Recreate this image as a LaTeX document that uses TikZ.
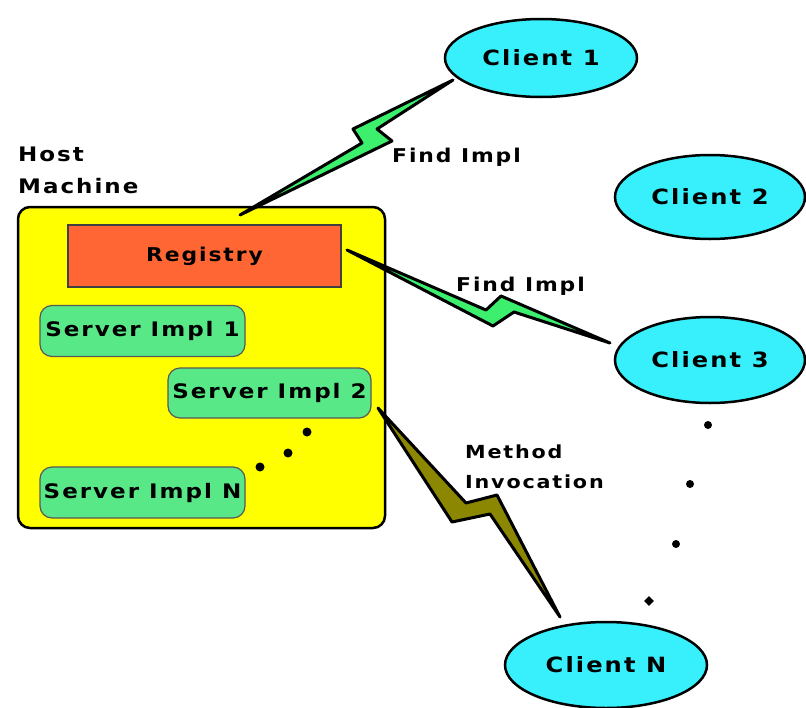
\documentclass[tikz,border=0pt]{standalone}
\usepackage{fontspec}
\setmainfont{DejaVu Sans}[FakeStretch=1.15, LetterSpace=10]
\usetikzlibrary{shapes.geometric}

\definecolor{hostyellow}{RGB}{255,255,0}
\definecolor{regorange}{RGB}{255,102,51}
\definecolor{implgreen}{RGB}{88,232,136}
\definecolor{clientcyan}{RGB}{56,240,252}
\definecolor{boltgreen}{RGB}{60,240,110}
\definecolor{boltolive}{RGB}{140,135,0}

\tikzset{
  hostbox/.style={draw=black, line width=2.5pt, fill=hostyellow, rounded corners=12pt},
  regbox/.style={draw=black!75, line width=1.2pt, fill=regorange,
    minimum width=273pt, minimum height=62pt, inner sep=0pt,
    font=\bfseries\fontsize{19}{22}\selectfont},
  implbox/.style={draw=black!65, line width=1.2pt, fill=implgreen, rounded corners=12pt,
    minimum width=205pt, minimum height=51pt, inner sep=0pt,
    font=\bfseries\fontsize{20}{24}\selectfont},
  client/.style={ellipse, draw=black, line width=2.5pt, fill=clientcyan, inner sep=0pt,
    font=\bfseries\fontsize{21}{25}\selectfont},
  bolt/.style={draw=black, line width=3pt, line join=round},
  lbl/.style={inner sep=0pt, font=\bfseries\fontsize{19}{22}\selectfont},
  dotmark/.style={circle, fill=black, inner sep=0pt, minimum size=#1},
  dotmark/.default=9pt
}

\begin{document}
\begin{tikzpicture}[x=1pt, y=-1pt]
\useasboundingbox (0,0) rectangle (806,707);

% host machine with its registry and server objects
\node[hostbox, minimum width=367pt, minimum height=321pt] (host) at (201.5,367.5) {};
\node[lbl, anchor=north west, align=left, font=\bfseries\fontsize{20}{32}\selectfont]
  (hostlbl) at (18,147) {Host\\Machine};
\node[regbox] (reg) at (204.5,256) {Registry};
\node[implbox] (impl1) at (142.5,331) {Server Impl 1};
\node[implbox, minimum width=203pt, minimum height=50pt] (impl2) at (269.5,393) {Server Impl 2};
\node[implbox] (impln) at (142.5,492.5) {Server Impl N};

\node[dotmark] (hd1) at (307,432) {};
\node[dotmark] (hd2) at (288,453) {};
\node[dotmark] (hd3) at (260,467) {};

% clients
\node[client, minimum width=192pt, minimum height=78pt] (c1) at (541,58) {Client 1};
\node[client, minimum width=190pt, minimum height=84pt] (c2) at (710,197) {Client 2};
\node[client, minimum width=190pt, minimum height=86pt] (c3) at (710,360) {Client 3};
\node[client, minimum width=202pt, minimum height=86pt] (cn) at (606,665) {Client N};

\node[dotmark=8pt] (cd1) at (708,425) {};
\node[dotmark=8pt] (cd2) at (690,484) {};
\node[dotmark=8pt] (cd3) at (676,544) {};
\node[diamond, fill=black, inner sep=0pt, minimum size=10pt] (cd4) at (649,601) {};

% lightning bolt: registry lookup from the host to Client 1
\coordinate (b1a) at (240,215);
\coordinate (b1b) at (453,80);
\filldraw[bolt, fill=boltgreen] (b1b) -- (353,129) -- (362,143) -- (b1a)
  -- (392,141) -- (377,129) -- cycle;
\node[lbl, anchor=base west] (find1) at (392,162) {Find Impl};

% lightning bolt: registry lookup from the registry to Client 3
\coordinate (b2a) at (347,250);
\coordinate (b2b) at (610,343);
\filldraw[bolt, fill=boltgreen] (b2a) -- (493,326) -- (514,312) -- (b2b)
  -- (501,296) -- (486,310) -- cycle;
\node[lbl, anchor=base west] (find2) at (456,291) {Find Impl};

% lightning bolt: method invocation between Server Impl 2 and Client N
\coordinate (b3a) at (378,408);
\coordinate (b3b) at (560,617);
\filldraw[bolt, fill=boltolive] (b3a) -- (466,503) -- (497,495) -- (b3b)
  -- (490,514) -- (452,522) -- cycle;
\node[lbl, anchor=north west, align=left, font=\bfseries\fontsize{18}{30}\selectfont]
  (minv) at (465,445) {Method\\Invocation};
\end{tikzpicture}
\end{document}
